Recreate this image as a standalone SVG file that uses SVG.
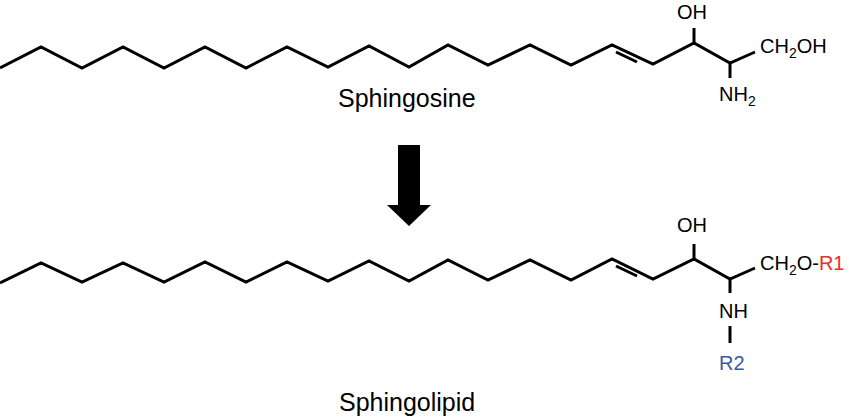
<svg xmlns="http://www.w3.org/2000/svg" width="850" height="418" viewBox="0 0 850 418">
<style>
.b{fill:none;stroke:#000;stroke-width:3;stroke-linejoin:miter}
text{font-family:"Liberation Sans",Arial,sans-serif;fill:#000}
.l{font-size:25px}
.a{font-size:20px}
.s{font-size:14px}
</style>
<rect width="850" height="418" fill="#fff"/>
<g id="sphingosine">
<polyline class="b" points="0,68 41,47 82,68 123,47 164,68 205,47 246,68 287,47 328,67 369,46 409,67 448,45 488,65 530,45 571,65 612,45 653,64 694,43 730,63 755,52"/>
<line class="b" x1="616" y1="52" x2="637" y2="62"/>
<line class="b" x1="694" y1="43" x2="694" y2="28"/>
<line class="b" x1="730" y1="63" x2="730" y2="78"/>
<text class="a" x="692" y="19" text-anchor="middle">OH</text>
<text class="a" x="760" y="53">CH<tspan class="s" dy="5">2</tspan><tspan dy="-5">OH</tspan></text>
<text class="a" x="719" y="101">NH<tspan class="s" dy="5">2</tspan></text>
<text class="l" x="338" y="107">Sphingosine</text>
</g>
<g id="arrow">
<polygon points="398,145 420,145 420,205 431,205 409,226 387,205 398,205" fill="#000"/>
</g>
<g id="sphingolipid">
<polyline class="b" points="0,283 41,263 82,282 123,263 164,282 205,262 246,282 287,262 328,281 369,261 409,281 448,260 488,280 530,260 571,280 612,259 653,279 694,259 730,279 755,268"/>
<line class="b" x1="616" y1="266" x2="637" y2="276"/>
<line class="b" x1="694" y1="259" x2="694" y2="244"/>
<line class="b" x1="730" y1="279" x2="730" y2="293"/>
<line class="b" x1="730" y1="326" x2="730" y2="343"/>
<text class="a" x="692" y="232" text-anchor="middle">OH</text>
<text class="a" x="760" y="270">CH<tspan class="s" dy="5">2</tspan><tspan dy="-5">O-</tspan><tspan fill="#e8302a">R1</tspan></text>
<text class="a" x="719" y="318">NH</text>
<text class="a" x="719" y="370" style="fill:#3a5aa8">R2</text>
<text class="l" x="339" y="411">Sphingolipid</text>
</g>
</svg>
